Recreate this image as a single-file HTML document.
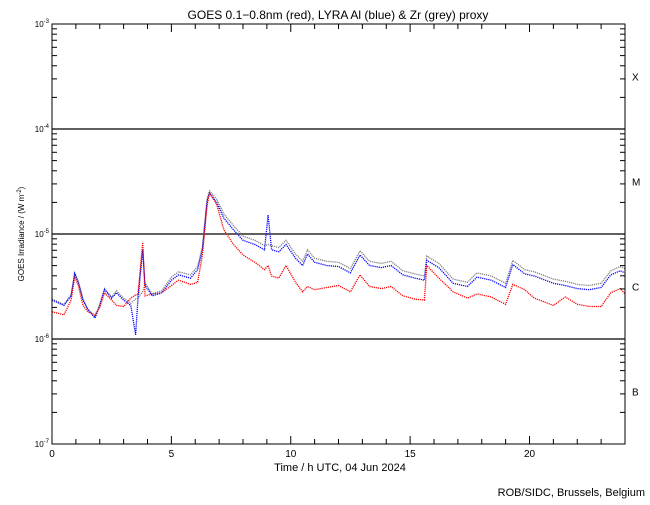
<!DOCTYPE html>
<html><head><meta charset="utf-8"><style>
body{margin:0;background:#fff;}
svg text{font-family:"Liberation Sans",sans-serif;fill:#000;}
</style></head><body>
<svg id="chart" width="650" height="500" viewBox="0 0 650 500" xmlns="http://www.w3.org/2000/svg">
<rect width="650" height="500" fill="#fff"/>
<text x="338" y="19" font-size="12" text-anchor="middle">GOES 0.1−0.8nm (red), LYRA Al (blue) &amp; Zr (grey) proxy</text>
<g id="grid"></g>
<g id="series"></g>
<g id="axes"></g>
<text x="340" y="471" font-size="11" text-anchor="middle">Time / h UTC, 04 Jun 2024</text>
<text transform="translate(24,234) rotate(-90)" font-size="8" text-anchor="middle">GOES Irradiance / (W m<tspan baseline-shift="super" font-size="6">-2</tspan>)</text>
<text x="645" y="496" font-size="11" text-anchor="end">ROB/SIDC, Brussels, Belgium</text>
</svg>
<script>
const xTicks=[0,5,10,15,20];
const yDecades=[-3,-4,-5,-6,-7];
const classLabels=["X","M","C","B"];
const times=[0,0.5,0.8,0.95,1.1,1.3,1.5,1.8,2.0,2.2,2.5,2.7,3.0,3.3,3.5,3.6,3.8,3.9,4.2,4.6,5.0,5.3,5.8,6.1,6.3,6.5,6.6,6.9,7.2,7.6,8.0,8.5,8.9,9.05,9.2,9.5,9.8,10.2,10.5,10.7,11.0,11.5,12.0,12.5,12.9,13.3,13.8,14.2,14.7,15.2,15.6,15.7,16.2,16.8,17.4,17.8,18.4,19.0,19.3,19.8,20.2,21.0,21.5,22.0,22.5,23.0,23.4,23.8,24.0];
// log10 flux values
const redLog=[-5.74,-5.77,-5.63,-5.41,-5.49,-5.68,-5.74,-5.77,-5.70,-5.56,-5.63,-5.68,-5.69,-5.61,-5.58,-5.58,-5.08,-5.59,-5.57,-5.56,-5.49,-5.44,-5.48,-5.46,-5.2,-4.72,-4.61,-4.72,-4.96,-5.1,-5.2,-5.27,-5.34,-5.3,-5.4,-5.42,-5.3,-5.46,-5.55,-5.5,-5.53,-5.51,-5.49,-5.55,-5.39,-5.5,-5.52,-5.5,-5.59,-5.62,-5.63,-5.3,-5.42,-5.55,-5.61,-5.57,-5.6,-5.67,-5.48,-5.53,-5.61,-5.68,-5.6,-5.67,-5.69,-5.69,-5.56,-5.52,-5.57];
const blueLog=[-5.63,-5.68,-5.59,-5.38,-5.46,-5.63,-5.72,-5.8,-5.68,-5.53,-5.61,-5.56,-5.63,-5.68,-5.96,-5.63,-5.15,-5.49,-5.59,-5.56,-5.44,-5.39,-5.42,-5.34,-5.15,-4.68,-4.61,-4.7,-4.85,-4.96,-5.06,-5.1,-5.15,-4.82,-5.15,-5.17,-5.1,-5.23,-5.3,-5.19,-5.27,-5.3,-5.31,-5.37,-5.2,-5.3,-5.32,-5.3,-5.39,-5.42,-5.44,-5.25,-5.32,-5.47,-5.5,-5.41,-5.44,-5.51,-5.29,-5.38,-5.4,-5.47,-5.49,-5.52,-5.53,-5.51,-5.39,-5.35,-5.37];
const greyLog=[-5.62,-5.67,-5.58,-5.37,-5.45,-5.62,-5.71,-5.79,-5.67,-5.52,-5.6,-5.54,-5.61,-5.66,-5.62,-5.61,-5.55,-5.47,-5.57,-5.54,-5.41,-5.36,-5.39,-5.31,-5.12,-4.66,-4.59,-4.67,-4.81,-4.92,-5.02,-5.06,-5.11,-5.1,-5.11,-5.13,-5.06,-5.19,-5.26,-5.15,-5.23,-5.26,-5.27,-5.33,-5.16,-5.26,-5.28,-5.26,-5.35,-5.38,-5.4,-5.21,-5.28,-5.43,-5.46,-5.37,-5.4,-5.47,-5.25,-5.34,-5.36,-5.43,-5.45,-5.48,-5.49,-5.47,-5.35,-5.31,-5.33];
const NS="http://www.w3.org/2000/svg";
const L=52,R=625,T=24,B=444;
function xs(t){return L+(R-L)*t/24;}
function ys(lg){return T+(-3-lg)*(B-T)/4;}
function mk(tag,attrs,parent){const e=document.createElementNS(NS,tag);for(const k in attrs)e.setAttribute(k,attrs[k]);parent.appendChild(e);return e;}
const grid=document.getElementById('grid'),axes=document.getElementById('axes'),ser=document.getElementById('series');
const fr=mk('rect',{x:L,y:T,width:R-L,height:B-T,fill:'none',stroke:'#000','stroke-width':1},axes);


yDecades.forEach((d,i)=>{
  const y=ys(d);
  if(i>0&&i<4){const g=mk('line',{x1:L,x2:R,y1:y,y2:y,stroke:'#000','stroke-width':1.3},grid);
    
    }
  const t=mk('text',{x:L-3,y:y+3,'font-size':8,'text-anchor':'end'},axes);
  
  
  t.innerHTML='10<tspan dy="-4" font-size="6">'+d+'</tspan>';
  if(i<4){for(let m=2;m<=9;m++){const yy=ys(d-1+Math.log10(m));
    mk('line',{x1:L,x2:L+5,y1:yy,y2:yy,stroke:'#000'},axes);
    mk('line',{x1:R,x2:R-5,y1:yy,y2:yy,stroke:'#000'},axes);}}
});
classLabels.forEach((c,i)=>{
  const t=mk('text',{x:632,y:ys(yDecades[i]-0.5)+4,'font-size':10},axes);
  
  
  t.textContent=c;
});
for(let h=0;h<=24;h++){const x=xs(h),len=h%5===0?8:5;
  mk('line',{x1:x,x2:x,y1:B,y2:B-len,stroke:'#000'},axes);
  mk('line',{x1:x,x2:x,y1:T,y2:T+len,stroke:'#000'},axes);}
xTicks.forEach(v=>{const t=mk('text',{x:xs(v),y:457,'font-size':10,'text-anchor':'middle'},axes);
  
  
  t.textContent=v;});
function line(vals,col,name){
  const p=vals.map((v,i)=>xs(times[i]).toFixed(1)+','+ys(v).toFixed(1)).join(' ');
  const e=mk('polyline',{points:p,fill:'none',stroke:col,'stroke-width':1.3,'stroke-dasharray':'1.2 0.9'},ser);
  
  
}
line(greyLog,'#808080','zr-grey-series');
line(blueLog,'#0000ff','al-blue-series');
line(redLog,'#ff0000','goes-red-series');
</script>
</body></html>
